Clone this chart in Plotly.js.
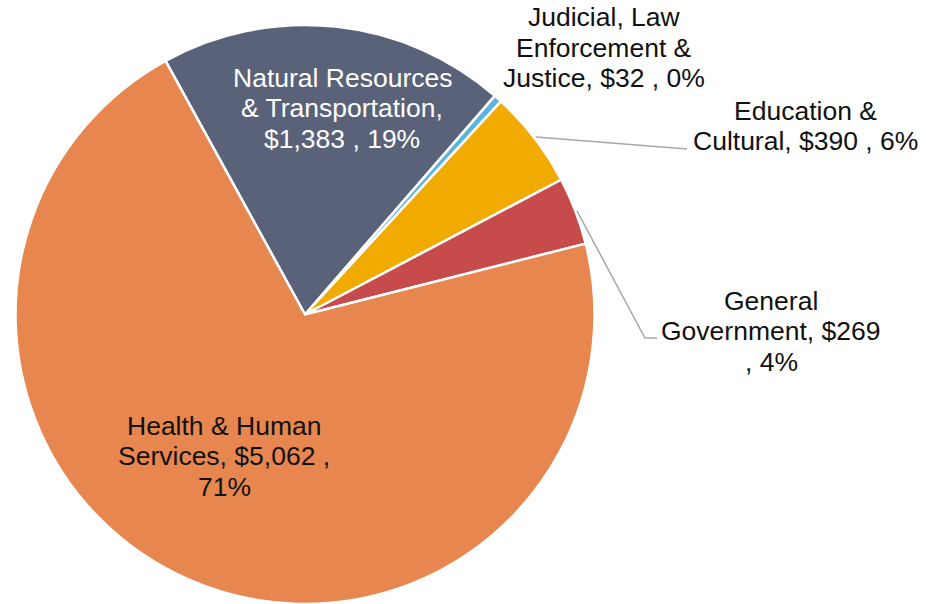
<!DOCTYPE html>
<html><head><meta charset="utf-8">
<script src="https://cdn.plot.ly/plotly-3.0.1.min.js"></script>
<style>html,body{margin:0;padding:0;background:#fff}#chart{width:926px;height:604px}</style>
</head><body><div id="chart"></div>
<script>
// ---- data ----
const categories = ['Natural Resources & Transportation', 'Judicial, Law Enforcement & Justice', 'Education & Cultural', 'General Government', 'Health & Human Services'];
const values = [1383, 32, 390, 269, 5062];
const percentLabels = [19, 0, 6, 4, 71];
const colors = ['#596278', '#5BB4DE', '#F0AA00', '#C74B4B', '#E8864F'];

// ---- layout helpers ----
const W = 926, H = 604;
const px = x => x / W, py = y => 1 - y / H;
const FONT = 'Liberation Sans, Arial, Helvetica, sans-serif';
const FS = 26.5, LINE = 30.5;
const labelStyle = [
  {cx: 342, cy: 108, wrap: 18, color: '#ffffff'},
  {cx: 604, cy: 48,  wrap: 18, color: '#111111'},
  {cx: 805, cy: 126, wrap: 20, color: '#111111'},
  {cx: 771, cy: 331, wrap: 16, color: '#111111'},
  {cx: 224, cy: 456, wrap: 18, color: '#111111'}
];

function wrap(text, max) {
  const words = text.split(' ');
  const lines = [];
  let cur = '';
  words.forEach(w => {
    if (cur === '') cur = w;
    else if ((cur + ' ' + w).length <= max) cur += ' ' + w;
    else { lines.push(cur); cur = w; }
  });
  if (cur) lines.push(cur);
  return lines;
}

const annotations = [];
categories.forEach((cat, i) => {
  const txt = cat + ', $' + values[i].toLocaleString('en-US') + ' , ' + percentLabels[i] + '%';
  const st = labelStyle[i];
  const lines = wrap(txt, st.wrap);
  lines.forEach((ln, j) => {
    annotations.push({
      text: ln, showarrow: false, xref: 'paper', yref: 'paper',
      x: px(st.cx), y: py(st.cy + (j - (lines.length - 1) / 2) * LINE),
      xanchor: 'center', yanchor: 'middle',
      font: {family: FONT, size: FS, color: st.color}
    });
  });
});

const lineStyle = {color: '#A6A6A6', width: 1.5};
const shapes = [
  {type: 'path', xref: 'paper', yref: 'paper',
   path: `M ${px(536)} ${py(137)} L ${px(687)} ${py(149)}`, line: lineStyle},
  {type: 'path', xref: 'paper', yref: 'paper',
   path: `M ${px(577)} ${py(211)} L ${px(645)} ${py(338)} L ${px(657)} ${py(338)}`, line: lineStyle}
];

const trace = {
  type: 'pie',
  labels: categories,
  values: values,
  sort: false,
  direction: 'clockwise',
  rotation: -28.8,
  textinfo: 'none',
  hoverinfo: 'skip',
  marker: {colors: colors, line: {color: '#ffffff', width: 2.5}},
  domain: {x: [15.5 / W, 594.5 / W], y: [0, 1 - 25 / H]}
};

Plotly.newPlot('chart', [trace], {
  width: W, height: H,
  margin: {l: 0, r: 0, t: 0, b: 0},
  paper_bgcolor: '#ffffff',
  showlegend: false,
  annotations: annotations,
  shapes: shapes
}, {staticPlot: true, displayModeBar: false});
</script>
</body></html>
